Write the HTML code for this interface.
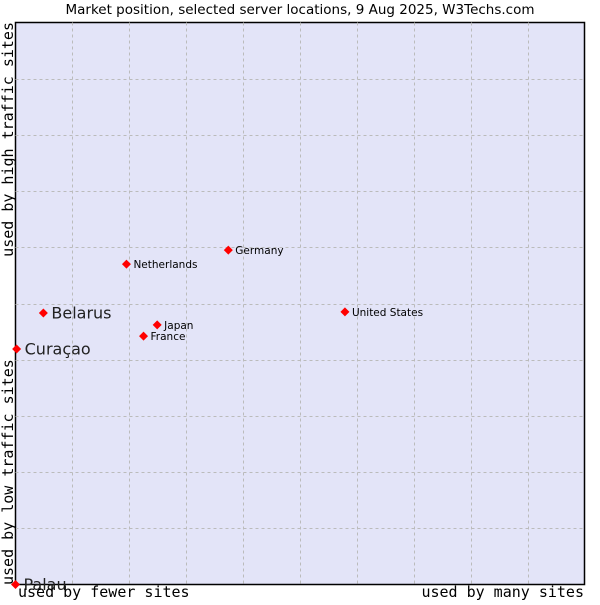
<!DOCTYPE html>
<html><head><meta charset="utf-8"><style>
body{margin:0;background:#fff;width:600px;height:600px;overflow:hidden}
svg{font-family:"DejaVu Sans","Liberation Sans",sans-serif}
</style></head><body>
<svg width="600" height="600">
<text x="300" y="14" text-anchor="middle" font-size="13.5" fill="#000">Market position, selected server locations, 9 Aug 2025, W3Techs.com</text>
<rect x="15.5" y="22.5" width="569" height="562" fill="#e3e4f8" stroke="#000" stroke-width="1.5"/>
<g id="grid"></g>
<g id="pts"></g>
<text font-family="DejaVu Sans Mono,Liberation Mono,monospace" font-size="15" transform="translate(13,585) rotate(-90)">used by low traffic sites</text>
<text font-family="DejaVu Sans Mono,Liberation Mono,monospace" font-size="15" text-anchor="end" transform="translate(13,22) rotate(-90)">used by high traffic sites</text>
<text x="18" y="597" font-family="DejaVu Sans Mono,Liberation Mono,monospace" font-size="15">used by fewer sites</text>
<text x="584" y="597" text-anchor="end" font-family="DejaVu Sans Mono,Liberation Mono,monospace" font-size="15">used by many sites</text>
</svg>
<script>
const names=["Palau","Curaçao","Belarus","Netherlands","Germany","Japan","France","United States"];
const xVals=[0,0.2,4.9,19.5,37.4,24.9,22.5,57.9];
const yVals=[0,41.9,48.3,57.0,59.5,46.2,44.2,48.5];
const bigLabel=[true,true,true,false,false,false,false,false];
const X0=15.5,X1=584.5,Y0=584.5,Y1=22.5;
const sx=v=>X0+v/100*(X1-X0), sy=v=>Y0-v/100*(Y0-Y1);
const NS="http://www.w3.org/2000/svg";
const g=document.getElementById('grid');
for(let i=1;i<10;i++){
 const v=document.createElementNS(NS,'line');
 
 
 const x=Math.round(sx(i*10))+0.5;
 v.setAttribute('x1',x);v.setAttribute('x2',x);v.setAttribute('y1',Y1);v.setAttribute('y2',Y0);
 v.setAttribute('stroke','#bbb');v.setAttribute('stroke-dasharray','3,3');g.appendChild(v);
 const h=document.createElementNS(NS,'line');
 
 
 const y=Math.round(sy(i*10))+0.5;
 h.setAttribute('x1',X0);h.setAttribute('x2',X1);h.setAttribute('y1',y);h.setAttribute('y2',y);
 h.setAttribute('stroke','#bbb');h.setAttribute('stroke-dasharray','3,3');g.appendChild(h);
}
const p=document.getElementById('pts');
names.forEach((n,i)=>{
 const x=sx(xVals[i]),y=sy(yVals[i]);
 const d=document.createElementNS(NS,'polygon');
 
 
 d.setAttribute('points',`${x},${y-4.5} ${x+4.5},${y} ${x},${y+4.5} ${x-4.5},${y}`);
 d.setAttribute('fill','#f00');p.appendChild(d);
 const t=document.createElementNS(NS,'text');
 
 
 const big=bigLabel[i];
 t.setAttribute('x',x+(big?8:7));t.setAttribute('y',y+(big?5.5:4));
 t.setAttribute('font-size',big?16:10.5);
 t.setAttribute('fill',big?'#222':'#000');
 t.textContent=n;p.appendChild(t);
});
</script>
</body></html>
